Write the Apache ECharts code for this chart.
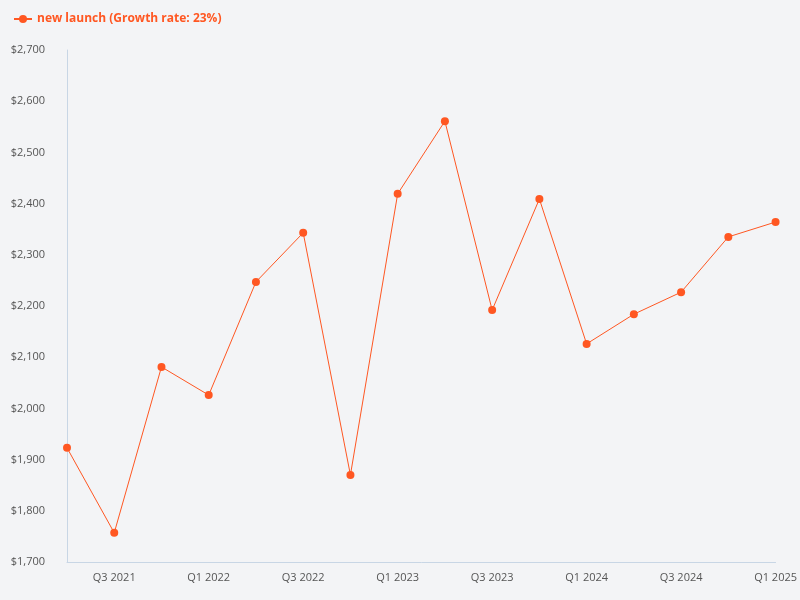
<!DOCTYPE html>
<html>
<head>
<meta charset="utf-8">
<script src="https://cdn.jsdelivr.net/npm/echarts@6/dist/echarts.min.js"></script>
<style>html,body{margin:0;background:#f3f4f6;}#main{width:800px;height:600px;}</style>
</head>
<body>
<div id="main"></div>
<script>
var quarters = ['Q2 2021','Q3 2021','Q4 2021','Q1 2022','Q2 2022','Q3 2022','Q4 2022','Q1 2023',
                'Q2 2023','Q3 2023','Q4 2023','Q1 2024','Q2 2024','Q3 2024','Q4 2024','Q1 2025'];
var launchValues = [1923,1757,2081,2026,2247,2343,1870,2419,2561,2192,2409,2126,2184,2227,2335,2364];

var chart = echarts.init(document.getElementById('main'));
chart.setOption({
    backgroundColor: '#f3f4f6',
    textStyle: { fontFamily: 'Open Sans' },
    legend: {
        left: 8, top: 8,
        itemWidth: 18, itemHeight: 10,
        textStyle: { color: '#ff5722', fontWeight: 'bold', fontSize: 12 },
        data: ['new launch (Growth rate: 23%)']
    },
    grid: { left: 67, right: 23, top: 50, bottom: 38 },
    xAxis: {
        type: 'category',
        boundaryGap: false,
        data: quarters,
        axisLine: { lineStyle: { color: '#c8d6e5' } },
        axisTick: { show: false },
        axisLabel: {
            color: '#555', fontSize: 11, margin: 10,
            interval: function (i) { return i % 2 === 1; }
        }
    },
    yAxis: {
        type: 'value',
        min: 1700, max: 2700, interval: 100,
        splitLine: { show: false },
        axisLine: { show: true, lineStyle: { color: '#c8d6e5' } },
        axisLabel: {
            color: '#555', fontSize: 11, margin: 22,
            formatter: function (v) { return '$' + v.toLocaleString('en-US'); }
        }
    },
    series: [{
        name: 'new launch (Growth rate: 23%)',
        type: 'line',
        data: launchValues,
        symbol: 'circle',
        symbolSize: 8,
        itemStyle: { color: '#ff5722' },
        lineStyle: { color: '#ff5722', width: 1 }
    }]
});
</script>
</body>
</html>
